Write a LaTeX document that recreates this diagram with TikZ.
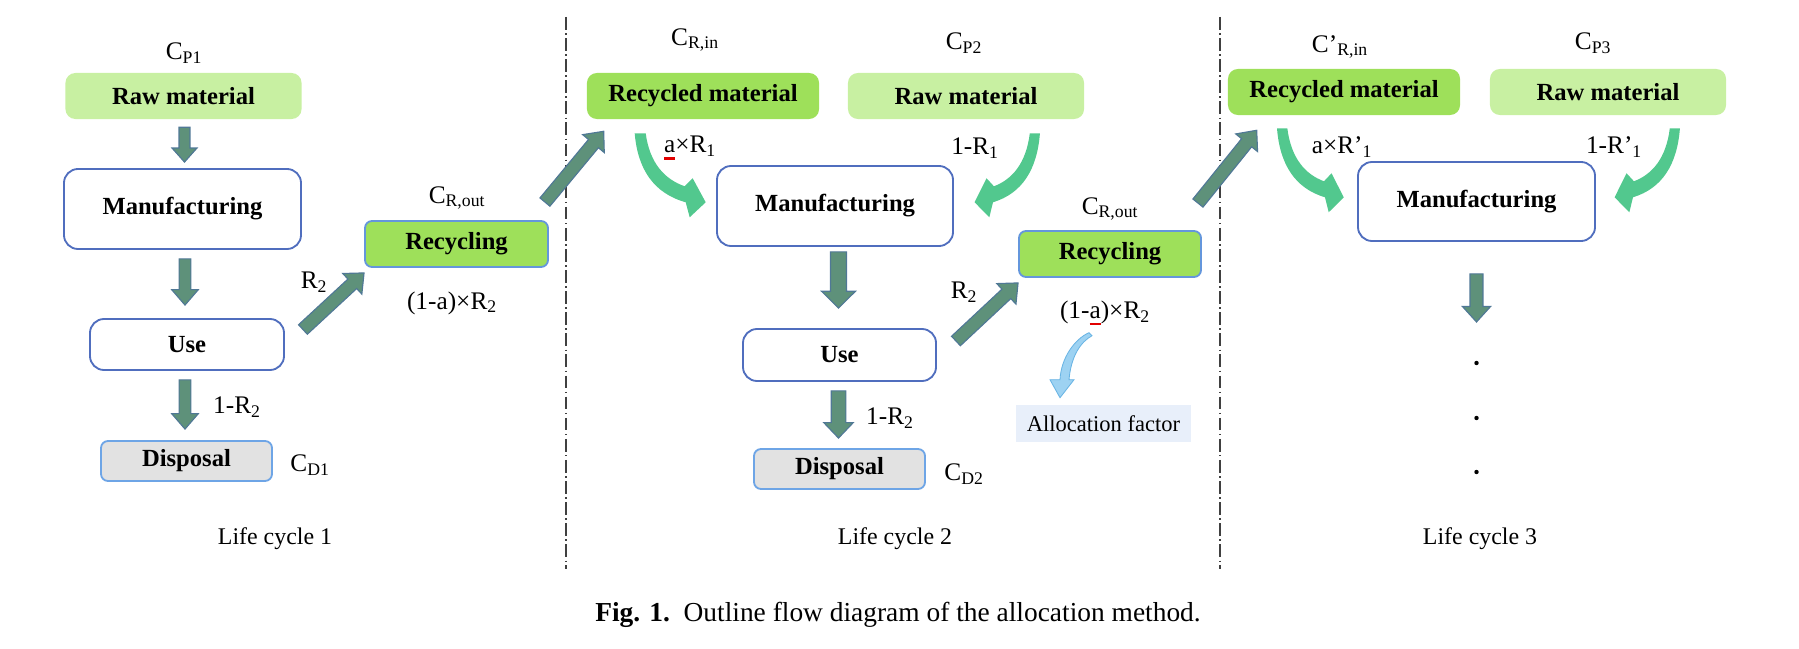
\documentclass[tikz,border=0pt]{standalone}
\usepackage{fontspec}
\setmainfont{Liberation Serif}
\usetikzlibrary{calc}
\definecolor{rawg}{RGB}{200,240,162}
\definecolor{recg}{RGB}{158,224,90}
\definecolor{bord}{RGB}{80,110,190}
\definecolor{recbord}{RGB}{100,150,220}
\definecolor{dispf}{RGB}{226,226,226}
\definecolor{dispb}{RGB}{110,165,230}
\definecolor{arrf}{RGB}{94,145,122}
\definecolor{arrb}{RGB}{80,120,150}
\definecolor{curvg}{RGB}{82,200,142}
\definecolor{allocf}{RGB}{232,239,250}
\definecolor{allocarf}{RGB}{157,210,242}
\definecolor{allocarb}{RGB}{105,180,228}
\definecolor{redu}{RGB}{225,0,0}
\newcommand\redu[1]{\leavevmode\setbox0\hbox{#1}\rlap{\textcolor{redu}{\rule[-4.8pt]{\wd0}{1.8pt}}}#1}
\newcommand\barrow[5]{%
  \coordinate (ba-s) at #1;
  \coordinate (ba-e) at #2;
  \coordinate (ba-h) at ($(ba-e)!#5!(ba-s)$);
  \filldraw[blockarr] ($(ba-s)!#3!90:(ba-e)$) -- ($(ba-h)!#3!90:(ba-e)$) -- ($(ba-h)!#4!90:(ba-e)$) -- (ba-e) -- ($(ba-h)!#4!-90:(ba-e)$) -- ($(ba-h)!#3!-90:(ba-e)$) -- ($(ba-s)!#3!-90:(ba-e)$) -- cycle;}
\begin{document}
\begin{tikzpicture}[x=0.025cm,y=-0.025cm,
  txtbox/.style={rectangle, inner sep=0, font=\fontsize{17.5}{20}\selectfont\bfseries, align=center},
  rawbox/.style={txtbox, fill=rawg, rounded corners=7pt, minimum width=5.9cm, minimum height=1.15cm},
  recmbox/.style={txtbox, fill=recg, rounded corners=7pt, minimum width=5.8cm, minimum height=1.15cm},
  procbox/.style={txtbox, draw=bord, line width=1.3pt, fill=white, rounded corners=10pt},
  recybox/.style={txtbox, fill=recg, draw=recbord, line width=1.3pt, rounded corners=5pt, minimum width=4.575cm, minimum height=1.15cm},
  dispbox/.style={txtbox, fill=dispf, draw=dispb, line width=1.3pt, rounded corners=5pt, minimum width=4.275cm, minimum height=1cm},
  allocbox/.style={rectangle, inner sep=0, fill=allocf, font=\fontsize{16}{19}\selectfont, minimum width=4.375cm, minimum height=0.925cm},
  lbl/.style={inner sep=0, font=\fontsize{18}{21}\selectfont},
  lclbl/.style={inner sep=0, font=\fontsize{17}{20}\selectfont},
  blockarr/.style={fill=arrf, draw=arrb, line width=0.8pt, line join=miter},
  sepline/.style={draw=black!75, line width=1pt, dash pattern=on 9pt off 2.5pt on 1pt off 2.5pt},
  greenarr/.pic={\fill[curvg] (6,0) .. controls (10,30) and (25,46) .. (45,53) -- (53,45) -- (66,69) -- (50,84) -- (46,69) .. controls (14,60) and (-2,36) .. (-5,0) -- cycle;},
  allocarr/.pic={\filldraw[fill=allocarf, draw=allocarb, line width=0.6pt, line join=miter] (2,0) .. controls (-9,6) and (-19,20) .. (-21,44) -- (-16,44) -- (-30,62) -- (-40,44) -- (-30,44) .. controls (-29,22) and (-15,3) .. (-1,-3) -- cycle;}
]
\useasboundingbox (0,0) rectangle (1799,649);

% separators
\coordinate (s1a) at (566,17); \coordinate (s1b) at (566,569);
\coordinate (s2a) at (1220,17); \coordinate (s2b) at (1220,569);
\draw[sepline] (s1a) -- (s1b);
\draw[sepline] (s2a) -- (s2b);

% ---------- Life cycle 1
\node[rawbox] (raw1) at (183.5,96) {Raw material};
\node[procbox, minimum width=5.925cm, minimum height=2cm] (man1) at (182.5,209) {Manufacturing};
\node[procbox, minimum width=4.85cm, minimum height=1.275cm] (use1) at (187,344.5) {Use};
\node[dispbox] (disp1) at (186.5,461) {Disposal};
\node[recybox] (rec1) at (456.5,244) {Recycling};
\node[lbl] (cp1) at (184,53) {C\textsubscript{P1}};
\node[lbl] (cro1) at (457,198) {C\textsubscript{R,out}};
\node[lbl] (r2a) at (314,282) {R\textsubscript{2}};
\node[lbl] (ar2a) at (452,303) {(1-a)×R\textsubscript{2}};
\node[lbl] (omr2a) at (237,407) {1-R\textsubscript{2}};
\node[lbl] (cd1) at (310,465) {C\textsubscript{D1}};
\node[lclbl] (lc1) at (275,539) {Life cycle 1};

% ---------- Life cycle 2
\node[recmbox] (recm2) at (703,96) {Recycled material};
\node[rawbox] (raw2) at (966,96) {Raw material};
\node[procbox, minimum width=5.9cm, minimum height=2cm] (man2) at (835,206) {Manufacturing};
\node[procbox, minimum width=4.825cm, minimum height=1.3cm] (use2) at (839.5,355) {Use};
\node[dispbox] (disp2) at (839.5,469) {Disposal};
\node[recybox, minimum width=4.55cm] (rec2) at (1110,254) {Recycling};
\node[allocbox] (alloc) at (1103.5,423.5) {Allocation factor};
\node[lbl] (cri2) at (695,40) {C\textsubscript{R,in}};
\node[lbl] (cp2) at (964,43) {C\textsubscript{P2}};
\node[lbl] (ar1) at (690,148) {\redu{a}×R\textsubscript{1}};
\node[lbl] (omr1) at (975,148) {1-R\textsubscript{1}};
\node[lbl] (r2b) at (964,292) {R\textsubscript{2}};
\node[lbl] (cro2) at (1110,209) {C\textsubscript{R,out}};
\node[lbl] (ar2b) at (1105,313) {(1-\redu{a})×R\textsubscript{2}};
\node[lbl] (omr2b) at (890,418) {1-R\textsubscript{2}};
\node[lbl] (cd2) at (964,474) {C\textsubscript{D2}};
\node[lclbl] (lc2) at (895,539) {Life cycle 2};

% ---------- Life cycle 3
\node[recmbox] (recm3) at (1344,92) {Recycled material};
\node[rawbox] (raw3) at (1608,92) {Raw material};
\node[procbox, minimum width=5.925cm, minimum height=1.975cm] (man3) at (1476.5,201.5) {Manufacturing};
\node[lbl] (cri3) at (1340,47) {C’\textsubscript{R,in}};
\node[lbl] (cp3) at (1593,43) {C\textsubscript{P3}};
\node[lbl] (ar1p) at (1342,147) {a×R’\textsubscript{1}};
\node[lbl] (omr1p) at (1614,147) {1-R’\textsubscript{1}};
\node[lclbl] (lc3) at (1480,539) {Life cycle 3};
\coordinate (cont3) at (1476.5,322);

% ---------- arrows, life cycle 1
\coordinate (v1) at ($(raw1.south)+(1,8)$);
\barrow{(v1)}{($(v1 |- man1.north)+(0,-6)$)}{3.9pt}{8.9pt}{10pt}
\coordinate (v2) at ($(man1.south)+(2.5,9)$);
\barrow{(v2)}{($(v2 |- use1.north)+(0,-13)$)}{4.2pt}{9.5pt}{11pt}
\coordinate (v3) at ($(use1.south)+(-2,9)$);
\barrow{(v3)}{($(v3 |- disp1.north)+(0,-11)$)}{4.2pt}{9.5pt}{11pt}
\barrow{($(use1.east)+(18,-15)$)}{($(rec1.south west)+(0,5)$)}{4.6pt}{10pt}{11.4pt}
\barrow{($(rec1.north east)+(-4,-18)$)}{($(recm2.south west)+(17,12)$)}{4.6pt}{10pt}{11.4pt}

% ---------- arrows, life cycle 2
\pic at ($(recm2.south west)+(53,14)$) {greenarr};
\pic[xscale=-0.92] at ($(raw2.south east)+(-49,14)$) {greenarr};
\pic at ($(alloc.north)+(-13.5,-69)$) {allocarr};
\coordinate (v4) at ($(man2.south)+(3.5,5)$);
\barrow{(v4)}{($(v4 |- use2.north)+(0,-20)$)}{5.7pt}{12.1pt}{12pt}
\coordinate (v5) at ($(use2.south)+(-1,9)$);
\barrow{(v5)}{($(v5 |- disp2.north)+(0,-10)$)}{5.2pt}{10.5pt}{11pt}
\barrow{($(use2.east)+(19,-14)$)}{($(rec2.south west)+(0,5)$)}{4.6pt}{10pt}{11.4pt}
\barrow{($(rec2.north east)+(-4,-27)$)}{($(recm3.south west)+(29,15)$)}{4.6pt}{10pt}{11.4pt}

% ---------- arrows, life cycle 3
\pic[xscale=0.94] at ($(recm3.south west)+(54,13)$) {greenarr};
\pic[xscale=-0.92] at ($(raw3.south east)+(-51,13)$) {greenarr};
\barrow{($(cont3 |- man3.south)+(0,32)$)}{(cont3)}{4.6pt}{10pt}{11pt}
\fill (1476.5,363) circle (2.2);
\fill (1476.5,418) circle (2.2);
\fill (1476.5,472) circle (2.2);

% caption
\node[inner sep=0, font=\fontsize{19.5}{23}\selectfont] (cap) at (898,615) {\textbf{Fig. 1.}\enspace Outline flow diagram of the allocation method.};
\end{tikzpicture}
\end{document}
